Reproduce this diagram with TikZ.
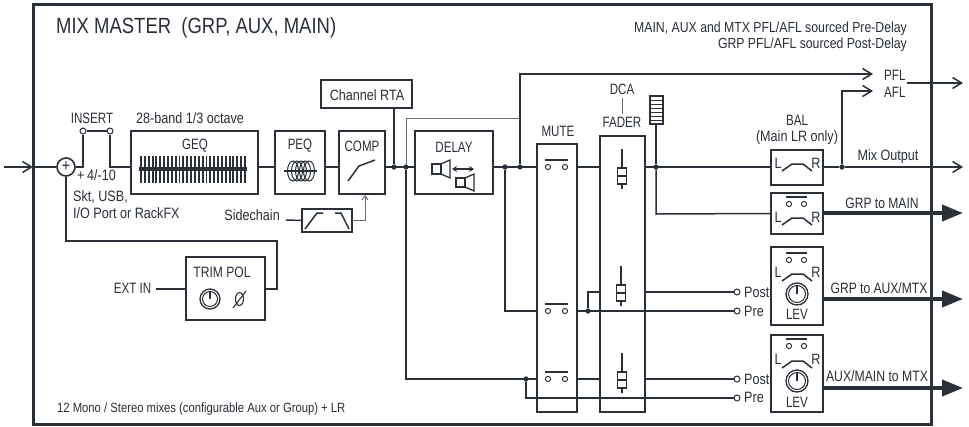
\documentclass[tikz,border=0pt]{standalone}
\usepackage{fontspec}
\setmainfont[FakeStretch=0.84]{Liberation Sans}
\usetikzlibrary{arrows.meta,calc}
\definecolor{ink}{HTML}{2A3038}
\newcommand{\cc}[1]{\scalebox{.92}[1]{#1}}
\tikzset{
  wire/.style={draw=ink,line width=1.5pt,line join=miter},
  thinwire/.style={draw=ink!70,line width=1pt},
  boxnode/.style={draw=ink,line width=1.6pt,fill=white,inner sep=0pt,outer sep=0pt},
  lbl/.style={text=ink,inner sep=0pt,font=\fontsize{15}{16}\selectfont},
  big/.style={text=ink,inner sep=0pt,font=\fontsize{22}{24}\selectfont},
  small/.style={text=ink,inner sep=0pt,font=\fontsize{14.6}{15}\selectfont},
  foots/.style={text=ink,inner sep=0pt,font=\fontsize{13.4}{14}\selectfont},
  dotn/.style={circle,fill=ink,inner sep=0pt,minimum size=5pt},
  term/.style={circle,draw=ink,line width=1pt,fill=white,inner sep=0pt,minimum size=6pt},
  barb/.style={-{Straight Barb[length=9pt,width=11pt,line width=1.5pt]}},
  fat/.style={draw=ink,line width=4pt,-{Triangle[length=21pt,width=16pt]}},
  glyph/.style={draw=ink,line width=1.3pt},
}
% box by corners
\newcommand{\bx}[5]{%
  \pgfmathsetmacro{\bxw}{#4-#2}\pgfmathsetmacro{\bxh}{#5-#3}%
  \pgfmathsetmacro{\bxa}{(#4+#2)/2}\pgfmathsetmacro{\bxb}{(#5+#3)/2}%
  \node[boxnode,minimum width=\bxw pt,minimum height=\bxh pt] (#1) at (\bxa,\bxb) {};}
\newcommand{\knobdraw}[3]{%
  \draw[glyph,line width=1.3pt] (#1,#2) circle[radius=#3];
  \draw[glyph,line width=1pt] (#1,#2) circle[radius=#3-2.5];
  \draw[draw=ink,line width=2.4pt] (#1,#2) -- (#1,#2-#3+2.5);}
\newcommand{\switchdraw}[3]{% x-left, x-right, y of circles
  \draw[draw=ink,line width=1.6pt] (#1-3,#3-7) -- (#2+3,#3-7);
  \draw[draw=ink,line width=1pt,fill=white] (#1,#3) circle[radius=2.6] (#2,#3) circle[radius=2.6];}
\newcommand{\faderdraw}[2]{% x, y-top of rail
  \draw[draw=ink,line width=1.6pt] (#1,#2) -- (#1,#2+40);
  \draw[draw=ink,line width=1.5pt,fill=white] (#1-4.5,#2+19) rectangle (#1+4.5,#2+35);
  \draw[draw=ink,line width=1.5pt] (#1-4.5,#2+27) -- (#1+4.5,#2+27);}
\newcommand{\balcurve}[1]{% y of curve ends
  \draw[glyph,line width=1.5pt] (782,#1) -- (792,#1-7) -- (803,#1-7) -- (812,#1);}
\begin{document}
\begin{tikzpicture}[x=1pt,y=-1pt]
\useasboundingbox (0,0) rectangle (969,426);
\fill[white] (0,0) rectangle (969,426);
% levels
\coordinate (m) at (0,167);
\coordinate (yb) at (0,311);
\coordinate (yc) at (0,379);
% frame
\node[draw=ink,line width=2.2pt,inner sep=0,minimum width=897pt,minimum height=419pt] (frame) at (482.5,214.5) {};
% title
\node[big,anchor=base west] (title) at (56,33) {MIX MASTER\ \ (GRP, AUX, MAIN)};
\node[small,anchor=east] (note1) at (907,29) {MAIN, AUX and MTX PFL/AFL sourced Pre-Delay};
\node[small,anchor=east] (note2) at (907,45) {GRP PFL/AFL sourced Post-Delay};
\node[foots,anchor=west] (foot) at (57,409) {12 Mono / Stereo mixes (configurable Aux or Group) + LR};
% boxes
\bx{geq}{131}{131}{258}{194}
\bx{peq}{275}{131}{325}{194}
\bx{comp}{339}{131}{385}{194}
\bx{rta}{321}{80}{412}{108}
\bx{delay}{415}{131}{493}{194}
\bx{side}{302}{209}{352}{232}
\bx{trim}{186}{257}{265}{320}
\bx{mute}{537}{144}{577}{412}
\bx{fader}{600}{136}{645}{412}
\bx{bal}{771}{150}{823}{185}
\bx{grpm}{771}{193}{823}{234}
\bx{grpa}{771}{247}{823}{325}
\bx{auxm}{771}{335}{823}{412}
\bx{meter}{650}{96}{663}{124}
% summing + junctions
\node[circle,draw=ink,line width=1.6pt,fill=white,minimum size=18pt,inner sep=0pt,text=ink,font=\fontsize{17}{17}\selectfont] (sum) at (66,167) {+};
\coordinate (in) at (4,167);
\node[term] (ins1) at (83,131) {};
\node[term] (ins2) at (110,131) {};
\node[dotn] (j1) at (394,167) {};
\node[dotn] (j2) at (406,167) {};
\node[dotn] (j3) at (505,167) {};
\node[dotn] (j4) at (520,167) {};
\node[dotn] (j5) at (656,167) {};
\node[dotn] (j6) at (842,167) {};
\node[dotn] (j7) at (588,311) {};
\node[dotn] (j8) at (526,379) {};
\node[term] (post1) at (737,292) {};
\node[term] (pre1) at (737,311) {};
\node[term] (post2) at (737,379) {};
\node[term] (pre2) at (737,398) {};
\coordinate (exts) at (156,289);
\coordinate (outm) at (963,167);
\coordinate (outp) at (963,83);
\coordinate (pfl) at (873,74);
\coordinate (afl) at (873,91);
\coordinate (sc) at (286,220);
\coordinate (out1) at (963,213);
\coordinate (out2) at (963,299);
\coordinate (out3) at (963,388);
% main chain
\draw[wire,barb] (in) -- (frame.west |- m);
\draw[wire] (frame.west |- m) -- (sum.west);
\draw[wire] (sum.east) -- (ins1 |- m) -- (ins1.south);
\draw[wire] (ins1.east) -- (ins2.west);
\draw[wire] (ins2.south) -- (ins2 |- m) -- (geq.west |- m);
\draw[wire] (geq.east |- m) -- (peq.west |- m);
\draw[wire] (peq.east |- m) -- (comp.west |- m);
\draw[wire] (comp.east |- m) -- (delay.west |- m);
\draw[wire] (rta.south -| j1) -- (j1);
\draw[wire] (delay.east |- m) -- (mute.west |- m);
\draw[wire] (mute.east |- m) -- (fader.west |- m);
\draw[wire] (fader.east |- m) -- (bal.west |- m);
\draw[wire] (bal.east |- m) -- (j6);
\draw[wire,barb] (j6) -- (outm);
% PFL / AFL
\draw[thinwire] (j2) -- (406,118) -- (520,118);
\draw[wire,barb] (j4) -- (520,74) -- (pfl);
\draw[wire,barb] (j6) -- (842,91) -- (afl);
\draw[wire,barb] (907,83) -- (outp);
% meter
\draw[wire] (meter.south -| j5) -- (j5);
\draw[wire] (j5) -- (656,214) -- (grpm.west);
% pre branches
\draw[wire] (j3) -- (505,311) -- (mute.west |- yb);
\draw[wire] (j2) -- (406,379) -- (mute.west |- yc);
\draw[wire] (j8) -- (526,398) -- (pre2.west);
\draw[wire] (mute.east |- yb) -- (pre1.west);
\draw[wire] (j7) -- (588,292) -- (fader.west |- post1);
\draw[wire] (fader.east |- post1) -- (post1.west);
\draw[wire] (mute.east |- yc) -- (fader.west |- yc);
\draw[wire] (fader.east |- post2) -- (post2.west);
% sidechain
\draw[wire] (sc) -- (side.west);
\draw[thinwire,-{Straight Barb[length=4pt,width=6pt]}] (side.east) -- (365,220.5) -- (365,195);
% ext in
\draw[wire] (exts) -- (trim.west |- exts);
\draw[wire] (trim.east |- exts) -- (277,289) -- (277,241) -- (66,241) -- (sum.south);
% fat outputs
\draw[fat] (grpm.east |- out1) -- (out1);
\draw[fat] (grpa.east |- out2) -- (out2);
\draw[fat] (auxm.east |- out3) -- (out3);
% dots on top
\foreach \xx/\yy in {394/167,406/167,505/167,520/167,656/167,842/167,588/311,526/379}
  \fill[ink] (\xx,\yy) circle[radius=2.5];
% outer frame over arrows stays visible
\draw[draw=ink,line width=2.2pt] (frame.north west) rectangle (frame.south east);
% labels
\node[lbl] (tins) at (92,118) {\cc{INSERT}};
\node[lbl] (tband) at (190,118) {28-band 1/3 octave};
\node[lbl] (tgeq) at (195,146) {\cc{GEQ}};
\node[lbl] (tpeq) at (300,146) {\cc{PEQ}};
\node[lbl] (tcomp) at (362,146) {\cc{COMP}};
\node[lbl] (trta) at (367,95) {Channel RTA};
\node[lbl] (tdelay) at (454,147) {\cc{DELAY}};
\node[lbl] (tmute) at (558,131) {\cc{MUTE}};
\node[lbl] (tdca) at (622,89) {\cc{DCA}};
\node[lbl] (tfad) at (622,122) {\cc{FADER}};
\draw[thinwire] (622,98) -- (622,114);
\node[lbl] (tbal) at (797,120) {\cc{BAL}};
\node[lbl] (tmain) at (797,138) {(Main LR only)};
\node[lbl] (tmix) at (888,157) {Mix Output};
\node[lbl] (tgm) at (882,203) {\scalebox{.96}[1]{GRP to MAIN}};
\node[lbl] (tga) at (879,288) {\scalebox{.96}[1]{GRP to AUX/MTX}};
\node[lbl] (tam) at (877,376) {\scalebox{.97}[1]{AUX/MAIN to MTX}};
\node[lbl,anchor=west] (tpfl) at (884,75) {\cc{PFL}};
\node[lbl,anchor=west] (tafl) at (884,92) {\cc{AFL}};
\node[lbl,anchor=west] (t4) at (77,175.5) {+\,4/-10};
\node[lbl,anchor=west] (tskt) at (73,197) {Skt, USB,};
\node[lbl,anchor=west] (tio) at (73,213) {I/O Port or RackFX};
\node[lbl,anchor=east] (tsc) at (280,215) {Sidechain};
\node[lbl] (text) at (132.5,288) {\cc{EXT IN}};
\node[lbl] (ttrim) at (222,272) {\scalebox{.96}[1]{TRIM POL}};
\node[lbl,anchor=west] (tpo1) at (744,292) {Post};
\node[lbl,anchor=west] (tpr1) at (744,311) {Pre};
\node[lbl,anchor=west] (tpo2) at (744,379) {Post};
\node[lbl,anchor=west] (tpr2) at (744,397) {Pre};
\node[lbl] (tl1) at (778,163) {L};
\node[lbl] (tr1) at (816,163) {R};
\node[lbl] (tl2) at (778,217) {L};
\node[lbl] (tr2) at (816,217) {R};
\node[lbl] (tl3) at (778,272) {L};
\node[lbl] (tr3) at (816,272) {R};
\node[lbl] (tl4) at (778,359) {L};
\node[lbl] (tr4) at (816,359) {R};
\node[lbl] (tlev1) at (797,314) {\cc{LEV}};
\node[lbl] (tlev2) at (797,402) {\cc{LEV}};
% GEQ bars
\foreach \i in {0,...,27}
  \draw[draw=ink,line width=1.9pt] ({141+\i*3.85},156) -- ({141+\i*3.85},183);
\draw[draw=ink,line width=4.5pt] (139,169) -- (247,169);
% PEQ glyph
\draw[glyph,line width=1.2pt] (284,171) -- (317,171);
\foreach \xx in {293,297,301,305,309}
  \draw[draw=ink,line width=1pt] (\xx,171) ellipse[x radius=5.5,y radius=10];
% COMP glyph
\draw[glyph,line width=1.5pt] (348,181) -- (359,166) -- (375,160);
% Sidechain filter
\draw[glyph,line width=1.5pt] (305,229) -- (317,213) -- (323,213);
\draw[glyph,line width=1.5pt] (335,213) -- (341,213) -- (349,229);
% Delay speakers
\draw[glyph,line join=miter] (432,164) rectangle (441,174);
\draw[glyph,line join=miter] (441,164) -- (450,160) -- (450,178) -- (441,174);
\draw[glyph,line join=miter] (456,178) rectangle (465,187);
\draw[glyph,line join=miter] (465,178) -- (474,174) -- (474,191) -- (465,187);
\draw[draw=ink,line width=1.3pt,{Stealth[length=5pt,width=6pt]}-{Stealth[length=5pt,width=6pt]}] (452,169) -- (474,169);
% Mute switches
\switchdraw{548}{565}{167}
\switchdraw{548}{565}{311}
\switchdraw{548}{565}{379}
% Faders
\faderdraw{622}{149}
\faderdraw{621}{266}
\faderdraw{622}{353}
% Meter rungs
\foreach \yy in {100,104,108,112,116,120}
  \draw[draw=ink,line width=1pt] (650,\yy) -- (663,\yy);
% BAL curves and switches
\balcurve{171}
\balcurve{225}
\balcurve{281}
\balcurve{368}
\switchdraw{789}{804}{204}
\switchdraw{789}{804}{260}
\switchdraw{789}{804}{346}
% Knobs
\knobdraw{797}{294}{11}
\knobdraw{797}{381}{11}
\knobdraw{210}{299}{10}
% phase glyph
\draw[draw=ink,line width=1.1pt] (239.5,299) ellipse[x radius=4,y radius=6.5];
\draw[draw=ink,line width=1.1pt] (233,308) -- (246,291);
\end{tikzpicture}
\end{document}
